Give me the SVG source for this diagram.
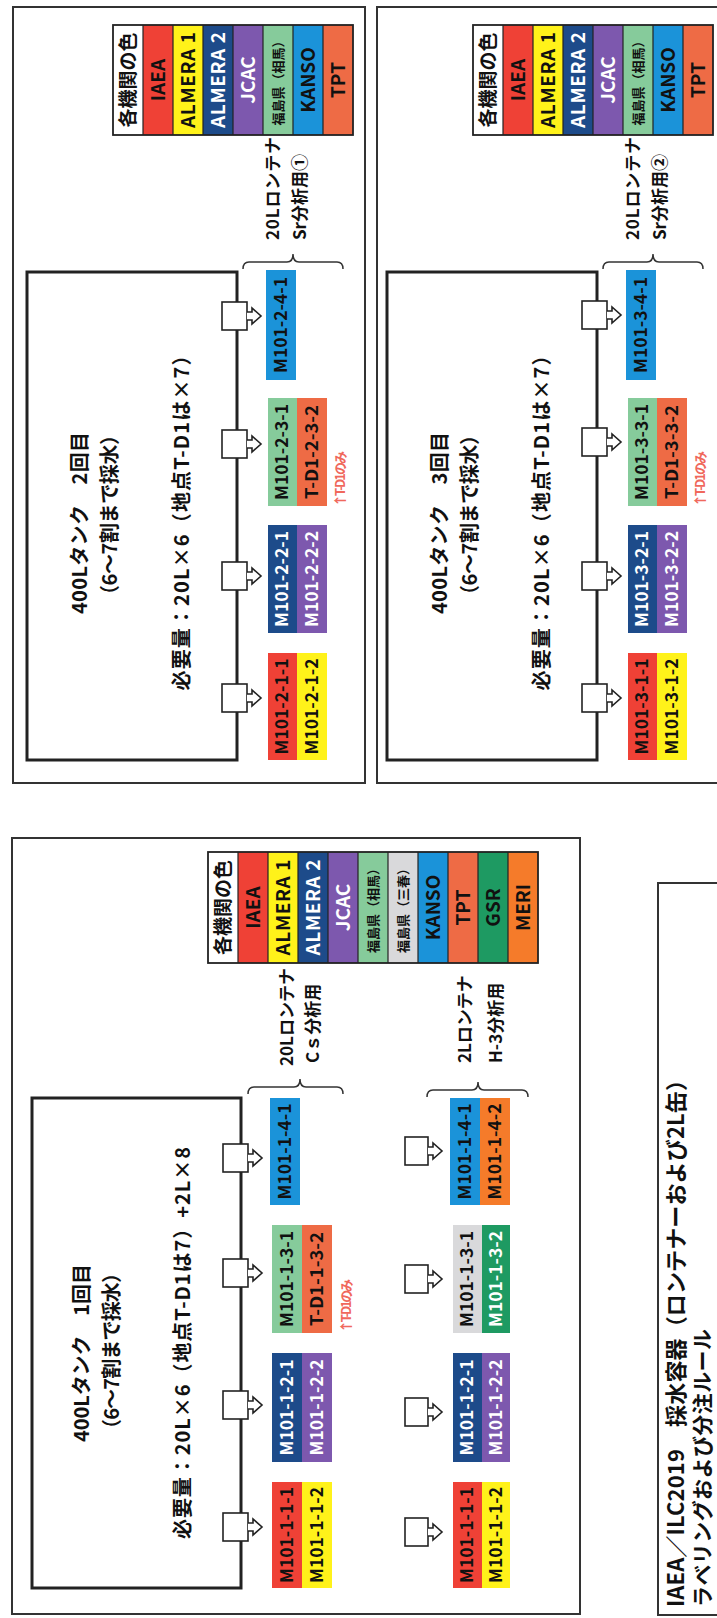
<svg xmlns="http://www.w3.org/2000/svg" xmlns:xlink="http://www.w3.org/1999/xlink" width="717" height="1618" viewBox="0 0 717 1618">
<style>
.frame{fill:none;stroke:#333;stroke-width:2}
.tank{fill:none;stroke:#222;stroke-width:3}
.vbox{fill:#fff;stroke:#222;stroke-width:1.6}
.brace{fill:none;stroke:#333;stroke-width:1.5}
.cellb{stroke:#222;stroke-width:1.2}
.t{font-family:"Noto Sans CJK JP","Noto Sans",sans-serif;font-weight:bold;fill:#111}
.lbl{font-family:"Noto Sans CJK JP","Noto Sans",sans-serif;font-weight:bold;font-size:17px;text-anchor:middle;fill:#111}
.lg{font-family:"Noto Sans CJK JP","Noto Sans",sans-serif;font-weight:bold;font-size:19px;text-anchor:middle;fill:#111}
.lgs{font-size:13px}
.w{fill:#fff}
.note{font-family:"Noto Sans CJK JP",sans-serif;font-weight:bold;font-size:13px;fill:#F0685C}
.mid{text-anchor:middle}
.cR{fill:#EF4136}.cY{fill:#FFF21A}.cDB{fill:#1D4B8A}.cP{fill:#7D58AE}.cLG{fill:#86CB9B}.cG{fill:#D9D9DB}.cK{fill:#1B93D9}.cT{fill:#EE6B45}.cGS{fill:#1E9A62}.cM{fill:#F57B2A}
</style>
<defs>
<g id="valve">
<rect class="vbox" x="-14" y="0" width="28" height="25"/>
<path class="vbox" d="M-4,25 V30 H-8 L0,39 L8,30 H4 V25"/>
</g>
<g id="valve2">
<rect class="vbox" x="-14" y="0" width="28" height="23"/>
<path class="vbox" d="M-4,23 V28 H-8 L0,37 L8,28 H4 V23"/>
</g>
</defs>
<rect width="717" height="1618" fill="#fff"/>
<g transform="translate(0,1618) rotate(-90)">

<!-- ============ PANEL 1 ============ -->
<g id="panel1">
<rect class="frame" x="4" y="12" width="776" height="568"/>
<rect class="tank" x="30" y="32" width="490" height="209"/>
<text class="t mid" x="265" y="89" font-size="20" textLength="178">400Lタンク　1回目</text>
<text class="t mid" x="267" y="119" font-size="20" textLength="176">（6～7割まで採水）</text>
<text class="t mid" x="275" y="190" font-size="20" textLength="392">必要量：20L×6（地点T-D1は7）+2L×8</text>
</g>
<g id="p1-valves">
<use xlink:href="#valve" x="91" y="223"/>
<use xlink:href="#valve" x="213" y="223"/>
<use xlink:href="#valve" x="345" y="223"/>
<use xlink:href="#valve" x="460" y="223"/>
<use xlink:href="#valve2" x="86" y="405"/>
<use xlink:href="#valve2" x="206" y="405"/>
<use xlink:href="#valve2" x="339" y="405"/>
<use xlink:href="#valve2" x="467" y="405"/>
</g>
<g id="p1-labels20">
<rect class="cR" x="30" y="272" width="106" height="30"/><text class="lbl" x="83" y="293" textLength="96" lengthAdjust="spacingAndGlyphs">M101-1-1-1</text>
<rect class="cY" x="30" y="302" width="106" height="30"/><text class="lbl" x="83" y="323" textLength="96" lengthAdjust="spacingAndGlyphs">M101-1-1-2</text>
<rect class="cDB" x="156" y="272" width="109" height="30"/><text class="lbl w" x="210.5" y="293" textLength="96" lengthAdjust="spacingAndGlyphs">M101-1-2-1</text>
<rect class="cP" x="156" y="302" width="109" height="30"/><text class="lbl w" x="210.5" y="323" textLength="96" lengthAdjust="spacingAndGlyphs">M101-1-2-2</text>
<rect class="cLG" x="285" y="272" width="108" height="30"/><text class="lbl" x="339" y="293" textLength="96" lengthAdjust="spacingAndGlyphs">M101-1-3-1</text>
<rect class="cT" x="285" y="302" width="108" height="30"/><text class="lbl" x="339" y="323" textLength="94" lengthAdjust="spacingAndGlyphs">T-D1-1-3-2</text>
<rect class="cK" x="413" y="270" width="107" height="30"/><text class="lbl" x="466.5" y="291" textLength="96" lengthAdjust="spacingAndGlyphs">M101-1-4-1</text>
<text class="note" x="285" y="351" textLength="54">↑T-D1のみ</text>
</g>
<g id="p1-labels2">
<rect class="cR" x="30" y="453" width="106" height="29"/><text class="lbl" x="83" y="473" textLength="96" lengthAdjust="spacingAndGlyphs">M101-1-1-1</text>
<rect class="cY" x="30" y="482" width="106" height="28"/><text class="lbl" x="83" y="502" textLength="96" lengthAdjust="spacingAndGlyphs">M101-1-1-2</text>
<rect class="cDB" x="156" y="453" width="109" height="29"/><text class="lbl w" x="210.5" y="473" textLength="96" lengthAdjust="spacingAndGlyphs">M101-1-2-1</text>
<rect class="cP" x="156" y="482" width="109" height="28"/><text class="lbl w" x="210.5" y="502" textLength="96" lengthAdjust="spacingAndGlyphs">M101-1-2-2</text>
<rect class="cG" x="285" y="453" width="108" height="29"/><text class="lbl" x="339" y="473" textLength="96" lengthAdjust="spacingAndGlyphs">M101-1-3-1</text>
<rect class="cGS" x="285" y="482" width="108" height="28"/><text class="lbl w" x="339" y="502" textLength="96" lengthAdjust="spacingAndGlyphs">M101-1-3-2</text>
<rect class="cK" x="413" y="450" width="107" height="30"/><text class="lbl" x="466.5" y="471" textLength="96" lengthAdjust="spacingAndGlyphs">M101-1-4-1</text>
<rect class="cM" x="413" y="480" width="107" height="30"/><text class="lbl" x="466.5" y="501" textLength="96" lengthAdjust="spacingAndGlyphs">M101-1-4-2</text>
</g>
<g id="p1-brace20">
<path class="brace" d="M524,248 Q531,248 531,254 V294 Q531,300 539,300 Q531,300 531,306 V337 Q531,343 524,343"/>
<text class="t" x="552" y="293" font-size="17">20Lロンテナ</text>
<text class="t" x="555" y="319" font-size="17">Cｓ分析用</text>
</g>
<g id="p1-brace2">
<path class="brace" d="M521,427 Q528,427 528,433 V472 Q528,478 536,478 Q528,478 528,484 V522 Q528,528 521,528"/>
<text class="t" x="555" y="471" font-size="17">2Lロンテナ</text>
<text class="t" x="555" y="502" font-size="17">H-3分析用</text>
</g>
<g id="p1-legend">
<rect fill="#fff" x="655" y="208" width="111" height="30"/>
<rect class="cR" x="655" y="238" width="111" height="30"/>
<rect class="cY" x="655" y="268" width="111" height="30"/>
<rect class="cDB" x="655" y="298" width="111" height="30"/>
<rect class="cP" x="655" y="328" width="111" height="30"/>
<rect class="cLG" x="655" y="358" width="111" height="30"/>
<rect class="cG" x="655" y="388" width="111" height="30"/>
<rect class="cK" x="655" y="418" width="111" height="30"/>
<rect class="cT" x="655" y="448" width="111" height="30"/>
<rect class="cGS" x="655" y="478" width="111" height="30"/>
<rect class="cM" x="655" y="508" width="111" height="30"/>
<g class="cellb">
<line x1="655" y1="238" x2="766" y2="238"/><line x1="655" y1="268" x2="766" y2="268"/><line x1="655" y1="298" x2="766" y2="298"/><line x1="655" y1="328" x2="766" y2="328"/><line x1="655" y1="358" x2="766" y2="358"/><line x1="655" y1="388" x2="766" y2="388"/><line x1="655" y1="418" x2="766" y2="418"/><line x1="655" y1="448" x2="766" y2="448"/><line x1="655" y1="478" x2="766" y2="478"/><line x1="655" y1="508" x2="766" y2="508"/>
</g>
<rect fill="none" stroke="#222" stroke-width="1.8" x="655" y="208" width="111" height="330"/>
<text class="lg" x="710.5" y="230" font-size="17">各機関の色</text>
<text class="lg" x="710.5" y="260" fill="#2a0a08">IAEA</text>
<text class="lg" x="710.5" y="290" textLength="96">ALMERA 1</text>
<text class="lg w" x="710.5" y="320" textLength="96">ALMERA 2</text>
<text class="lg w" x="710.5" y="350">JCAC</text>
<text class="lg lgs" x="710.5" y="378">福島県（相馬）</text>
<text class="lg lgs" x="710.5" y="408">福島県（三春）</text>
<text class="lg" x="710.5" y="440" fill="#13306a">KANSO</text>
<text class="lg" x="710.5" y="470">TPT</text>
<text class="lg" x="710.5" y="500">GSR</text>
<text class="lg" x="710.5" y="530">MERI</text>
</g>

<!-- ============ TITLE ============ -->
<g id="title">
<rect class="frame" x="3" y="658" width="732" height="70"/>
<text class="t" x="11" y="684" font-size="22" textLength="538">IAEA／ILC2019　採水容器（ロンテナーおよび2L缶）</text>
<text class="t" x="11" y="710" font-size="21" textLength="278">ラベリングおよび分注ルール</text>
</g>

<!-- ============ PANEL 2 ============ -->
<g id="panel2">
<rect class="frame" x="835" y="13" width="776" height="352"/>
<rect class="tank" x="858" y="27" width="488" height="210"/>
<text class="t mid" x="1095" y="87" font-size="20" textLength="182">400Lタンク　2回目</text>
<text class="t mid" x="1103" y="117" font-size="20" textLength="180">（6～7割まで採水）</text>
<text class="t mid" x="1100" y="189" font-size="20" textLength="345">必要量：20L×6（地点T-D1は×7）</text>
</g>
<g id="p2-valves">
<use xlink:href="#valve" x="920" y="222"/>
<use xlink:href="#valve" x="1042" y="222"/>
<use xlink:href="#valve" x="1174" y="222"/>
<use xlink:href="#valve" x="1302" y="222"/>
</g>
<g id="p2-labels">
<rect class="cR" x="858" y="268" width="107" height="29"/><text class="lbl" x="911.5" y="288" textLength="96" lengthAdjust="spacingAndGlyphs">M101-2-1-1</text>
<rect class="cY" x="858" y="297" width="107" height="30"/><text class="lbl" x="911.5" y="318" textLength="96" lengthAdjust="spacingAndGlyphs">M101-2-1-2</text>
<rect class="cDB" x="985" y="268" width="108" height="29"/><text class="lbl w" x="1039" y="288" textLength="96" lengthAdjust="spacingAndGlyphs">M101-2-2-1</text>
<rect class="cP" x="985" y="297" width="108" height="30"/><text class="lbl w" x="1039" y="318" textLength="96" lengthAdjust="spacingAndGlyphs">M101-2-2-2</text>
<rect class="cLG" x="1112" y="268" width="108" height="29"/><text class="lbl" x="1166" y="288" textLength="96" lengthAdjust="spacingAndGlyphs">M101-2-3-1</text>
<rect class="cT" x="1112" y="297" width="108" height="30"/><text class="lbl" x="1166" y="318" textLength="94" lengthAdjust="spacingAndGlyphs">T-D1-2-3-2</text>
<rect class="cK" x="1238" y="266" width="110" height="30"/><text class="lbl" x="1293" y="287" textLength="96" lengthAdjust="spacingAndGlyphs">M101-2-4-1</text>
<text class="note" x="1111" y="345" textLength="56">↑T-D1のみ</text>
</g>
<g id="p2-brace">
<path class="brace" d="M1349,243 Q1356,243 1356,249 V287 Q1356,293 1364,293 Q1356,293 1356,299 V337 Q1356,343 1349,343"/>
<text class="t" x="1378" y="279" font-size="17" textLength="103">20Lロンテナ</text>
<text class="t" x="1378" y="306" font-size="17">Sr分析用①</text>
</g>
<g id="p2-legend">
<rect fill="#fff" x="1483" y="113" width="110" height="30"/>
<rect class="cR" x="1483" y="143" width="110" height="30"/>
<rect class="cY" x="1483" y="173" width="110" height="30"/>
<rect class="cDB" x="1483" y="203" width="110" height="30"/>
<rect class="cP" x="1483" y="233" width="110" height="30"/>
<rect class="cLG" x="1483" y="263" width="110" height="30"/>
<rect class="cK" x="1483" y="293" width="110" height="30"/>
<rect class="cT" x="1483" y="323" width="110" height="30"/>
<g class="cellb">
<line x1="1483" y1="143" x2="1593" y2="143"/><line x1="1483" y1="173" x2="1593" y2="173"/><line x1="1483" y1="203" x2="1593" y2="203"/><line x1="1483" y1="233" x2="1593" y2="233"/><line x1="1483" y1="263" x2="1593" y2="263"/><line x1="1483" y1="293" x2="1593" y2="293"/><line x1="1483" y1="323" x2="1593" y2="323"/>
</g>
<rect fill="none" stroke="#222" stroke-width="1.8" x="1483" y="113" width="110" height="240"/>
<text class="lg" x="1538" y="135" font-size="17">各機関の色</text>
<text class="lg" x="1538" y="165" fill="#2a0a08">IAEA</text>
<text class="lg" x="1538" y="195" textLength="96">ALMERA 1</text>
<text class="lg w" x="1538" y="225" textLength="96">ALMERA 2</text>
<text class="lg w" x="1538" y="255">JCAC</text>
<text class="lg lgs" x="1538" y="283">福島県（相馬）</text>
<text class="lg" x="1538" y="315" fill="#13306a">KANSO</text>
<text class="lg" x="1538" y="345">TPT</text>
</g>

<!-- ============ PANEL 3 ============ -->
<g id="panel3">
<rect class="frame" x="835" y="377" width="776" height="360"/>
<rect class="tank" x="858" y="387" width="488" height="210"/>
<text class="t mid" x="1095" y="447" font-size="20" textLength="182">400Lタンク　3回目</text>
<text class="t mid" x="1103" y="477" font-size="20" textLength="180">（6～7割まで採水）</text>
<text class="t mid" x="1100" y="549" font-size="20" textLength="345">必要量：20L×6（地点T-D1は×7）</text>
</g>
<g id="p3-valves">
<use xlink:href="#valve" x="920" y="582"/>
<use xlink:href="#valve" x="1042" y="582"/>
<use xlink:href="#valve" x="1176" y="582"/>
<use xlink:href="#valve" x="1303" y="582"/>
</g>
<g id="p3-labels">
<rect class="cR" x="858" y="628" width="107" height="29"/><text class="lbl" x="911.5" y="648" textLength="96" lengthAdjust="spacingAndGlyphs">M101-3-1-1</text>
<rect class="cY" x="858" y="657" width="107" height="30"/><text class="lbl" x="911.5" y="678" textLength="96" lengthAdjust="spacingAndGlyphs">M101-3-1-2</text>
<rect class="cDB" x="985" y="628" width="108" height="29"/><text class="lbl w" x="1039" y="648" textLength="96" lengthAdjust="spacingAndGlyphs">M101-3-2-1</text>
<rect class="cP" x="985" y="657" width="108" height="30"/><text class="lbl w" x="1039" y="678" textLength="96" lengthAdjust="spacingAndGlyphs">M101-3-2-2</text>
<rect class="cLG" x="1112" y="628" width="108" height="29"/><text class="lbl" x="1166" y="648" textLength="96" lengthAdjust="spacingAndGlyphs">M101-3-3-1</text>
<rect class="cT" x="1112" y="657" width="108" height="30"/><text class="lbl" x="1166" y="678" textLength="94" lengthAdjust="spacingAndGlyphs">T-D1-3-3-2</text>
<rect class="cK" x="1238" y="626" width="110" height="30"/><text class="lbl" x="1293" y="647" textLength="96" lengthAdjust="spacingAndGlyphs">M101-3-4-1</text>
<text class="note" x="1111" y="705" textLength="56">↑T-D1のみ</text>
</g>
<g id="p3-brace">
<path class="brace" d="M1349,603 Q1356,603 1356,609 V647 Q1356,653 1364,653 Q1356,653 1356,659 V697 Q1356,703 1349,703"/>
<text class="t" x="1378" y="639" font-size="17" textLength="103">20Lロンテナ</text>
<text class="t" x="1378" y="666" font-size="17">Sr分析用②</text>
</g>
<g id="p3-legend">
<rect fill="#fff" x="1483" y="473" width="110" height="30"/>
<rect class="cR" x="1483" y="503" width="110" height="30"/>
<rect class="cY" x="1483" y="533" width="110" height="30"/>
<rect class="cDB" x="1483" y="563" width="110" height="30"/>
<rect class="cP" x="1483" y="593" width="110" height="30"/>
<rect class="cLG" x="1483" y="623" width="110" height="30"/>
<rect class="cK" x="1483" y="653" width="110" height="30"/>
<rect class="cT" x="1483" y="683" width="110" height="30"/>
<g class="cellb">
<line x1="1483" y1="503" x2="1593" y2="503"/><line x1="1483" y1="533" x2="1593" y2="533"/><line x1="1483" y1="563" x2="1593" y2="563"/><line x1="1483" y1="593" x2="1593" y2="593"/><line x1="1483" y1="623" x2="1593" y2="623"/><line x1="1483" y1="653" x2="1593" y2="653"/><line x1="1483" y1="683" x2="1593" y2="683"/>
</g>
<rect fill="none" stroke="#222" stroke-width="1.8" x="1483" y="473" width="110" height="240"/>
<text class="lg" x="1538" y="495" font-size="17">各機関の色</text>
<text class="lg" x="1538" y="525" fill="#2a0a08">IAEA</text>
<text class="lg" x="1538" y="555" textLength="96">ALMERA 1</text>
<text class="lg w" x="1538" y="585" textLength="96">ALMERA 2</text>
<text class="lg w" x="1538" y="615">JCAC</text>
<text class="lg lgs" x="1538" y="643">福島県（相馬）</text>
<text class="lg" x="1538" y="675" fill="#13306a">KANSO</text>
<text class="lg" x="1538" y="705">TPT</text>
</g>
</g>
</svg>
